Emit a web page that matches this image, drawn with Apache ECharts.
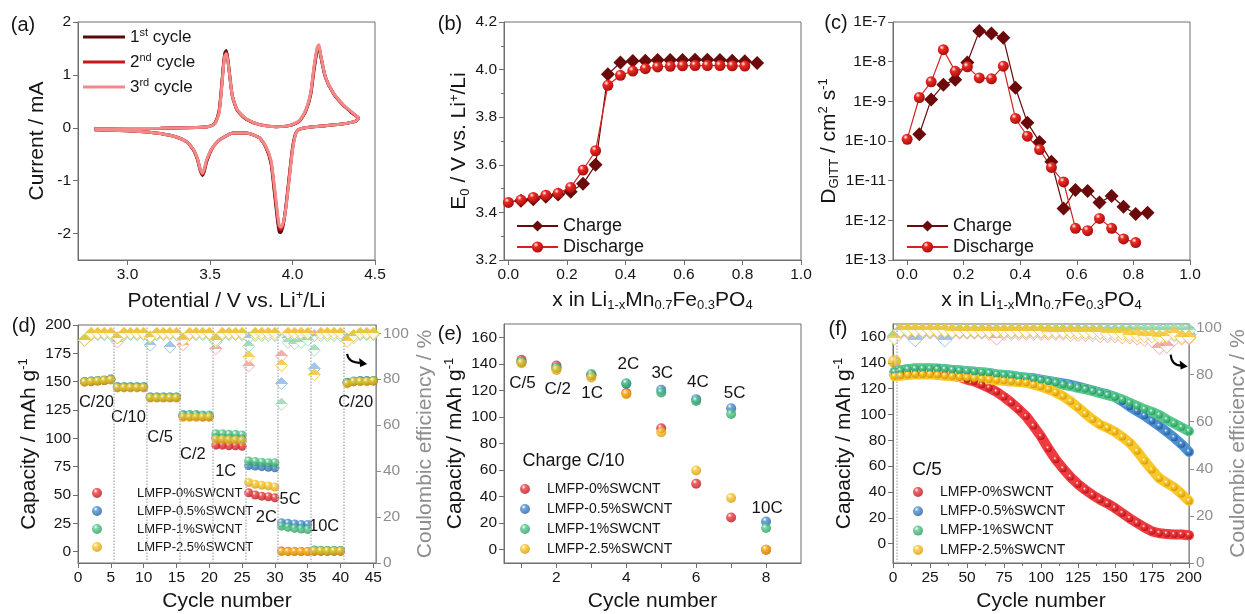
<!DOCTYPE html>
<html lang="en">
  <head>
    <meta charset="UTF-8" />
    <title>LMFP / SWCNT electrochemistry</title>
    <style>
      html, body { margin: 0; padding: 0; background: #ffffff; }
      #main { width: 1245px; height: 614px; }
    </style>
  </head>
  <body>
    <div id="main"></div>
    <script src="https://cdn.jsdelivr.net/npm/echarts@6/dist/echarts.min.js"></script>
    <script>
      // ===== (a) cyclic voltammetry: anodic sweep then cathodic sweep =====
      const cvNames = ['1st cycle', '2nd cycle', '3rd cycle']
      const cvPotential = [
        2.80, 3.00, 3.20, 3.35, 3.45, 3.50, 3.53, 3.555, 3.57, 3.58, 3.59, 3.60, 3.615, 3.635, 3.665, 3.72,
        3.80, 3.90, 3.98, 4.04, 4.08, 4.11, 4.13, 4.15, 4.16, 4.17, 4.20, 4.25, 4.31, 4.37, 4.40,
        4.38, 4.30, 4.20, 4.10, 4.04, 4.02, 4.00, 3.98, 3.96, 3.945, 3.93, 3.92, 3.91, 3.89, 3.87, 3.84,
        3.80, 3.72, 3.64, 3.60, 3.55, 3.51, 3.48, 3.465, 3.455, 3.44, 3.425, 3.40, 3.36, 3.30, 3.20, 3.10,
        3.00, 2.80
      ]
      const cvCycle1 = [
        -0.02, -0.015, -0.01, 0.0, 0.01, 0.03, 0.09, 0.32, 0.78, 1.15, 1.42, 1.46, 1.12, 0.61, 0.33, 0.16,
        0.06, 0.02, 0.04, 0.12, 0.31, 0.62, 1.08, 1.47, 1.53, 1.37, 0.95, 0.64, 0.42, 0.26, 0.18,
        0.12, 0.07, 0.04, 0.01, -0.03, -0.10, -0.38, -0.92, -1.48, -1.82, -1.98, -1.97, -1.78, -1.22, -0.68, -0.38,
        -0.19, -0.10, -0.10, -0.15, -0.25, -0.41, -0.64, -0.83, -0.90, -0.80, -0.61, -0.42, -0.27, -0.18, -0.11, -0.075,
        -0.055, -0.035
      ]
      const cvCycle2 = [
        -0.02, -0.015, -0.01, 0.0, 0.01, 0.03, 0.08, 0.30, 0.75, 1.12, 1.38, 1.42, 1.10, 0.60, 0.33, 0.16,
        0.06, 0.02, 0.04, 0.12, 0.32, 0.64, 1.12, 1.50, 1.55, 1.38, 0.95, 0.64, 0.42, 0.26, 0.18,
        0.12, 0.07, 0.04, 0.01, -0.03, -0.10, -0.40, -0.95, -1.50, -1.80, -1.93, -1.90, -1.70, -1.15, -0.65, -0.37,
        -0.19, -0.10, -0.10, -0.15, -0.25, -0.40, -0.62, -0.80, -0.88, -0.78, -0.60, -0.42, -0.27, -0.18, -0.11, -0.075,
        -0.055, -0.035
      ]
      const cvCycle3 = [
        -0.02, -0.015, -0.01, 0.0, 0.01, 0.03, 0.08, 0.28, 0.72, 1.10, 1.36, 1.40, 1.10, 0.61, 0.34, 0.17,
        0.06, 0.02, 0.04, 0.13, 0.33, 0.66, 1.15, 1.53, 1.57, 1.40, 0.96, 0.65, 0.43, 0.27, 0.18,
        0.12, 0.07, 0.04, 0.01, -0.03, -0.11, -0.43, -0.98, -1.52, -1.78, -1.88, -1.85, -1.64, -1.10, -0.62, -0.36,
        -0.19, -0.10, -0.10, -0.15, -0.25, -0.40, -0.60, -0.78, -0.86, -0.77, -0.59, -0.41, -0.27, -0.18, -0.11, -0.075,
        -0.055, -0.035
      ]

      // ===== (b)/(c) GITT =====
      const gittXCharge = [0.043, 0.085, 0.128, 0.170, 0.213, 0.255, 0.298, 0.340, 0.383, 0.425,
        0.468, 0.510, 0.553, 0.595, 0.638, 0.680, 0.723, 0.765, 0.808, 0.850]
      const gittXDischarge = [0.000, 0.043, 0.085, 0.128, 0.170, 0.213, 0.255, 0.298, 0.340, 0.383,
        0.425, 0.468, 0.510, 0.553, 0.595, 0.638, 0.680, 0.723, 0.765, 0.808]
      const e0Charge = [3.449, 3.455, 3.466, 3.475, 3.487, 3.520, 3.600, 3.980, 4.030, 4.036,
        4.037, 4.040, 4.040, 4.040, 4.041, 4.041, 4.040, 4.037, 4.035, 4.028]
      const e0Discharge = [3.442, 3.452, 3.463, 3.472, 3.480, 3.505, 3.578, 3.659, 3.934, 3.976,
        3.994, 4.004, 4.011, 4.014, 4.016, 4.017, 4.017, 4.017, 4.016, 4.015]
      const dCharge = [1.48e-10, 1.12e-9, 2.6e-9, 3.5e-9, 9.5e-9, 5.9e-8, 5.1e-8, 4.0e-8, 2.2e-9, 2.9e-10,
        9.5e-11, 3.0e-11, 2.0e-12, 5.8e-12, 5.5e-12, 2.8e-12, 4.1e-12, 2.2e-12, 1.44e-12, 1.56e-12]
      const dDischarge = [1.1e-10, 1.25e-9, 3.1e-9, 2.0e-8, 5.7e-9, 7.4e-9, 3.9e-9, 3.7e-9, 7.7e-9, 3.7e-10,
        1.32e-10, 6.1e-11, 2.15e-11, 9.3e-12, 6.3e-13, 5.5e-13, 1.12e-12, 6.3e-13, 3.4e-13, 2.75e-13]

      // ===== (d) rate capability =====
      const cntNames = ['LMFP-0%SWCNT', 'LMFP-0.5%SWCNT', 'LMFP-1%SWCNT', 'LMFP-2.5%SWCNT']
      const rateCycles = [1, 2, 3, 4, 5, 6, 7, 8, 9, 10, 11, 12, 13, 14, 15, 16, 17, 18, 19, 20, 21, 22, 23,
        24, 25, 26, 27, 28, 29, 30, 31, 32, 33, 34, 35, 36, 37, 38, 39, 40, 41, 42, 43, 44, 45]
      const rateBreaks = [5.5, 10.5, 15.5, 20.5, 25.5, 30.5, 35.5, 40.5]
      const rateLabelsD = ['C/20', 'C/10', 'C/5', 'C/2', '1C', '2C', '5C', '10C', 'C/20']
      const capD0 = [150.0, 150.0, 150.5, 151.0, 152.0, 145.0, 145.0, 145.0, 145.0, 145.0,
        136.0, 136.0, 136.0, 136.0, 136.0, 119.5, 119.5, 119.5, 119.0, 119.0,
        94.0, 94.0, 93.5, 93.5, 93.0, 52.0, 50.0, 49.0, 48.5, 47.5,
        0.5, 0.3, 0.2, 0.2, 0.2, 0.2, 0.2, 0.2, 0.2, 0.2,
        149.0, 150.0, 150.5, 150.5, 150.5]
      const capD05 = [150.0, 150.5, 151.0, 151.5, 152.5, 145.5, 145.5, 145.5, 145.5, 145.5,
        136.5, 136.5, 136.5, 136.5, 136.5, 120.5, 120.5, 120.5, 120.0, 120.0,
        100.5, 100.0, 100.0, 99.5, 99.5, 76.0, 75.5, 75.0, 74.5, 74.0,
        25.5, 25.0, 24.5, 24.0, 24.0, 1.2, 1.0, 1.0, 1.0, 1.0,
        149.5, 150.5, 151.0, 151.0, 151.0]
      const capD1 = [150.0, 150.5, 151.0, 151.0, 152.0, 145.5, 145.5, 145.5, 145.5, 145.5,
        136.5, 136.5, 136.5, 136.5, 136.5, 121.0, 121.0, 121.0, 120.5, 120.5,
        104.0, 104.0, 103.5, 103.5, 103.0, 80.0, 79.5, 79.0, 78.5, 78.5,
        22.5, 21.5, 20.5, 20.0, 19.5, 1.5, 1.2, 1.0, 1.0, 1.0,
        149.0, 150.0, 150.5, 150.5, 151.0]
      const capD25 = [149.5, 150.0, 150.5, 151.0, 151.5, 144.5, 144.5, 144.5, 144.5, 144.5,
        135.5, 135.5, 135.5, 135.5, 135.5, 118.5, 118.5, 118.5, 118.5, 118.5,
        99.0, 99.0, 98.5, 98.5, 98.0, 61.0, 59.5, 58.5, 58.0, 57.0,
        0.0, 0.0, 0.0, 0.0, 0.0, 0.5, 0.5, 0.5, 0.5, 0.5,
        148.0, 150.0, 150.0, 150.0, 150.5]
      const ceD0 = [97.0, 99.5, 99.5, 99.5, 99.5, 96.2, 99.5, 99.5, 99.5, 99.5,
        98.0, 99.5, 99.5, 99.5, 99.5, 95.0, 99.5, 99.5, 99.5, 99.5,
        93.3, 99.5, 99.5, 99.5, 99.5, 85.8, 99.2, 99.2, 99.2, 99.2,
        90.1, 99.5, 99.5, 99.5, 99.5, 99.0, 99.5, 99.5, 99.5, 99.5,
        97.0, 98.5, 99.5, 99.5, 99.5]
      const ceD05 = [97.0, 99.5, 99.5, 99.5, 99.5, 98.0, 99.5, 99.5, 99.5, 99.5,
        94.8, 99.5, 99.5, 94.0, 99.5, 97.5, 99.5, 99.5, 99.5, 99.5,
        97.0, 99.5, 99.5, 99.5, 99.5, 98.0, 99.5, 99.5, 99.5, 99.5,
        78.1, 98.0, 99.0, 99.0, 99.0, 84.6, 99.5, 99.5, 99.5, 99.5,
        97.5, 99.0, 99.5, 99.5, 99.5]
      const ceD1 = [97.0, 99.5, 99.5, 99.5, 99.5, 98.0, 99.5, 99.5, 99.5, 99.5,
        98.0, 99.5, 99.5, 99.5, 99.5, 97.5, 99.5, 99.5, 99.5, 99.5,
        96.2, 99.5, 99.5, 99.5, 99.5, 94.3, 99.0, 99.0, 99.0, 99.0,
        69.1, 96.0, 95.5, 96.0, 97.0, 92.6, 99.0, 99.0, 99.0, 99.0,
        97.0, 98.0, 99.5, 99.5, 99.5]
      const ceD25 = [97.0, 100.0, 100.0, 100.0, 100.0, 98.0, 100.0, 100.0, 100.0, 100.0,
        98.5, 100.0, 100.0, 100.0, 100.0, 97.0, 100.0, 100.0, 100.0, 100.0,
        97.0, 100.0, 100.0, 100.0, 100.0, 89.7, 100.0, 100.0, 100.0, 100.0,
        86.0, 100.0, 100.0, 100.0, 100.0, 82.0, 100.0, 100.0, 100.0, 100.0,
        96.5, 99.0, 100.0, 100.0, 100.0]

      // ===== (e) discharge rate test, charge at C/10 =====
      const rateSteps = [1, 2, 3, 4, 5, 6, 7, 8]
      const rateLabelsE = ['C/5', 'C/2', '1C', '2C', '3C', '4C', '5C', '10C']
      const capE0 = [143.0, 138.7, 131.5, 118.0, 91.5, 49.7, 24.3, 0.0]
      const capE05 = [141.5, 137.0, 131.5, 125.0, 120.4, 113.4, 106.6, 21.3]
      const capE1 = [141.5, 137.0, 132.4, 125.4, 118.4, 112.1, 102.3, 16.3]
      const capE25 = [140.4, 135.4, 129.7, 117.1, 88.5, 59.7, 38.9, 0.0]

      // ===== (f) long cycling at C/5 =====
      const cycleF = [1, 5, 10, 15, 20, 25, 30, 35, 40, 45, 50, 55, 60, 65, 70, 75, 80, 85, 90, 95, 100,
        105, 110, 115, 120, 125, 130, 135, 140, 145, 150, 155, 160, 165, 170, 175, 180, 185, 190, 195, 200]
      const capF0 = [130.5, 131.0, 131.0, 131.5, 131.5, 131.5, 131.0, 130.5, 130.0, 129.0,
        127.0, 125.5, 123.0, 120.5, 117.5, 113.5, 109.0, 104.0, 98.5, 91.0,
        83.0, 73.5, 65.0, 58.0, 51.5, 46.0, 41.5, 37.5, 34.0, 31.0,
        27.5, 23.5, 19.5, 16.0, 12.5, 9.5, 8.0, 7.5, 7.0, 7.0, 6.5]
      const capF05 = [133.0, 134.0, 135.0, 135.5, 135.5, 135.5, 135.5, 135.0, 134.5, 134.0,
        133.5, 133.0, 132.5, 132.0, 131.0, 130.5, 130.0, 129.0, 128.5, 128.0,
        127.0, 126.0, 125.0, 124.0, 123.0, 121.5, 120.0, 118.5, 117.0, 115.5,
        113.5, 110.0, 106.0, 102.5, 99.0, 95.0, 91.0, 86.5, 82.0, 77.0, 71.0]
      const capF1 = [133.0, 134.0, 135.0, 135.5, 135.5, 135.5, 135.0, 135.0, 134.5, 134.0,
        133.5, 133.0, 132.5, 132.0, 131.0, 130.5, 130.0, 129.0, 128.5, 127.5,
        126.5, 125.5, 124.5, 123.0, 122.0, 120.5, 119.5, 118.0, 116.5, 115.0,
        113.5, 111.5, 109.0, 106.5, 104.0, 102.0, 99.5, 96.0, 93.0, 90.0, 87.0]
      const capF25 = [129.5, 130.0, 130.5, 131.0, 131.0, 131.0, 130.5, 130.0, 129.5, 129.0,
        128.5, 128.0, 127.5, 127.0, 126.5, 126.0, 125.5, 125.0, 124.5, 123.0,
        121.5, 119.5, 117.0, 114.0, 110.0, 105.5, 100.5, 96.0, 92.0, 89.5,
        86.5, 82.5, 78.0, 71.5, 64.0, 57.0, 50.5, 47.0, 43.5, 38.5, 33.0]
      const formationCycleF = [1]
      const formationCapF25 = [141.0]
      const ceF0 = [96.0, 98.0, 98.0, 98.0, 98.0, 98.0, 98.0, 98.0, 98.0, 98.0,
        98.0, 98.0, 98.0, 97.5, 95.5, 97.5, 97.5, 97.5, 97.5, 97.5,
        97.5, 97.5, 97.5, 97.5, 97.0, 97.0, 97.0, 97.0, 96.5, 96.5,
        96.5, 96.0, 96.0, 95.5, 95.0, 94.5, 91.5, 92.0, 95.0, 95.5, 95.5]
      const ceF05 = [96.0, 98.3, 98.3, 94.8, 98.3, 98.3, 98.3, 94.8, 98.3, 98.3,
        98.3, 98.3, 98.3, 98.3, 98.3, 98.3, 98.3, 98.3, 98.3, 98.3,
        98.3, 98.3, 98.3, 98.3, 98.3, 98.3, 98.0, 98.0, 98.0, 98.0,
        98.0, 97.8, 97.8, 97.5, 97.5, 97.5, 97.3, 97.3, 97.0, 97.0, 97.0]
      const ceF1 = [96.5, 98.6, 98.6, 98.6, 98.6, 98.6, 98.6, 98.6, 98.6, 98.6,
        98.6, 98.6, 98.6, 98.6, 98.6, 98.6, 98.6, 98.6, 98.6, 98.6,
        98.6, 98.6, 98.6, 98.6, 98.6, 98.6, 98.6, 98.6, 98.6, 98.6,
        98.6, 98.6, 98.6, 98.8, 98.8, 98.8, 98.8, 98.8, 99.0, 98.8, 98.8]
      const ceF25 = [95.5, 98.8, 98.8, 98.8, 98.8, 98.8, 98.8, 98.8, 98.5, 98.5,
        98.5, 98.5, 98.5, 98.5, 98.5, 98.5, 98.5, 98.5, 98.5, 98.5,
        98.5, 98.3, 98.3, 98.3, 98.3, 98.0, 98.0, 98.0, 98.0, 97.5,
        97.5, 97.5, 97.0, 97.0, 96.5, 96.5, 96.0, 96.5, 97.5, 96.0, 96.0]

      // ===== styles =====
      const FONT = "'Liberation Sans', Arial, sans-serif"
      const INK = '#151515'
      const FRAME = '#6f6f6f'
      const GREY = '#8e8e8e'
      const cvColors = ['#5b0a0c', '#c9171d', '#f28a8a']
      const chargeColor = '#6a0a0a'
      const dischargeStyle = { base: '#ea2a22', dark: '#a80d0d' }
      const cntStyle = [
        { base: '#ee3b3f', dark: '#b3141a', ce: '#f09a9a' },
        { base: '#4d8fd1', dark: '#275e9c', ce: '#8ab8e6' },
        { base: '#56c98b', dark: '#2d9960', ce: '#8fd9ad' },
        { base: '#f8c82a', dark: '#d8980a', ce: '#f6c631' }
      ]

      function sphere(s) {
        return new echarts.graphic.RadialGradient(0.36, 0.3, 0.72, [
          { offset: 0, color: '#ffffff' },
          { offset: 0.3, color: s.base },
          { offset: 1, color: s.dark }
        ])
      }
      // Origin-like "half up" diamond: top half filled, bottom half white
      function halfDiamond(c) {
        return new echarts.graphic.LinearGradient(0, 0, 0, 1, [
          { offset: 0, color: c },
          { offset: 0.5, color: c },
          { offset: 0.5, color: '#ffffff' },
          { offset: 1, color: '#ffffff' }
        ])
      }

      const richScript = {
        sup: { fontSize: 13, lineHeight: 13, verticalAlign: 'top', fontFamily: FONT, color: INK },
        sub: { fontSize: 13, lineHeight: 13, verticalAlign: 'bottom', fontFamily: FONT, color: INK }
      }

      function makeAxis(gridIndex, min, max, cfg) {
        const lineColor = cfg.lineColor || FRAME
        const axis = {
          type: cfg.type || 'value',
          gridIndex: gridIndex,
          min: min,
          max: max,
          position: cfg.position,
          name: cfg.name,
          nameLocation: 'middle',
          nameGap: cfg.nameGap,
          nameTextStyle: {
            fontFamily: FONT, fontSize: 21, color: cfg.nameColor || INK, lineHeight: 24, rich: richScript
          },
          axisLine: { show: true, onZero: false, lineStyle: { color: lineColor, width: 1 } },
          axisTick: { show: true, inside: false, length: 5, lineStyle: { color: lineColor } },
          minorTick: { show: !!cfg.minor, splitNumber: cfg.minor || 5, length: 3, lineStyle: { color: lineColor } },
          axisLabel: { fontFamily: FONT, fontSize: 15.5, color: cfg.labelColor || INK, margin: 7, formatter: cfg.fmt },
          splitLine: { show: false },
          minorSplitLine: { show: false }
        }
        if (cfg.interval !== undefined) axis.interval = cfg.interval
        if (cfg.labels) {
          axis.axisLabel.customValues = cfg.labels
          axis.axisTick.customValues = cfg.ticks || cfg.labels
        }
        if (axis.type === 'log') axis.logBase = 10
        return axis
      }

      const fmt1 = v => Number(v).toFixed(1)
      const xTitle = 'x in Li{sub|1-x}Mn{sub|0.7}Fe{sub|0.3}PO{sub|4}'

      const grids = [
        { left: 78, top: 22, width: 297, height: 238 },
        { left: 504, top: 22, width: 297, height: 238 },
        { left: 893, top: 22, width: 297, height: 238 },
        { left: 78, top: 325, width: 298, height: 238 },
        { left: 504, top: 324, width: 297, height: 239 },
        { left: 893, top: 324, width: 296, height: 239 }
      ].map(g => Object.assign({
        show: true, borderColor: FRAME, borderWidth: 1, backgroundColor: 'transparent',
        containLabel: false, outerBoundsMode: 'none'
      }, g))

      const xAxes = [
        makeAxis(0, 2.7, 4.5, { labels: [3.0, 3.5, 4.0, 4.5], fmt: fmt1, name: 'Potential / V vs. Li{sup|+}/Li', nameGap: 29 }),
        makeAxis(1, -0.015, 1.0, { labels: [0, 0.2, 0.4, 0.6, 0.8, 1.0], fmt: fmt1, name: xTitle, nameGap: 28 }),
        makeAxis(2, -0.05, 1.0, { labels: [0, 0.2, 0.4, 0.6, 0.8, 1.0], fmt: fmt1, name: xTitle, nameGap: 28 }),
        makeAxis(3, 0, 45.4, { labels: [0, 5, 10, 15, 20, 25, 30, 35, 40, 45], name: 'Cycle number', nameGap: 26 }),
        makeAxis(4, 0.5, 9, { labels: [2, 4, 6, 8], ticks: [1, 2, 3, 4, 5, 6, 7, 8], name: 'Cycle number', nameGap: 26 }),
        makeAxis(5, 0, 200, { interval: 25, minor: 2, name: 'Cycle number', nameGap: 26 })
      ]
      const yAxes = [
        makeAxis(0, -2.5, 2, { labels: [-2, -1, 0, 1, 2], name: 'Current / mA', nameGap: 29 }),
        makeAxis(1, 3.2, 4.2, { interval: 0.2, minor: 2, fmt: fmt1, name: 'E{sub|0} / V vs. Li{sup|+}/Li', nameGap: 26 }),
        makeAxis(2, 1e-13, 1e-7, {
          type: 'log', fmt: v => '1E' + Math.round(Math.log10(v)),
          name: 'D{sub|GITT} / cm{sup|2} s{sup|-1}', nameGap: 52
        }),
        makeAxis(3, -10, 200, { labels: [0, 25, 50, 75, 100, 125, 150, 175, 200], name: 'Capacity / mAh g{sup|-1}', nameGap: 26 }),
        makeAxis(3, 0, 103.6, {
          position: 'right', labels: [0, 20, 40, 60, 80, 100], lineColor: GREY, labelColor: GREY,
          nameColor: GREY, name: 'Coulombic efficiency / %', nameGap: 35
        }),
        makeAxis(4, -10, 170, { labels: [0, 20, 40, 60, 80, 100, 120, 140, 160], name: 'Capacity / mAh g{sup|-1}', nameGap: 35 }),
        makeAxis(5, -15, 170, { labels: [0, 20, 40, 60, 80, 100, 120, 140, 160], name: 'Capacity / mAh g{sup|-1}', nameGap: 36 }),
        makeAxis(5, 0, 101.5, {
          position: 'right', labels: [0, 20, 40, 60, 80, 100], lineColor: GREY, labelColor: GREY,
          nameColor: GREY, name: 'Coulombic efficiency / %', nameGap: 32
        })
      ]

      const series = []
      const zip = (xs, ys) => xs.map((x, i) => [x, ys[i]])

      // (a)
      ;[cvCycle1, cvCycle2, cvCycle3].forEach((cur, i) => {
        series.push({
          name: cvNames[i], type: 'line', xAxisIndex: 0, yAxisIndex: 0,
          data: zip(cvPotential, cur), symbol: 'none', smooth: 0.2,
          lineStyle: { width: 3, color: cvColors[i] }, itemStyle: { color: cvColors[i] }
        })
      })

      // (b) and (c)
      function gittPair(axisIndex, charge, discharge) {
        series.push({
          name: 'Charge', type: 'line', xAxisIndex: axisIndex, yAxisIndex: axisIndex,
          data: zip(gittXCharge, charge), symbol: 'diamond', symbolSize: 14,
          lineStyle: { width: 1.2, color: chargeColor }, itemStyle: { color: chargeColor }
        })
        series.push({
          name: 'Discharge', type: 'line', xAxisIndex: axisIndex, yAxisIndex: axisIndex,
          data: zip(gittXDischarge, discharge), symbol: 'circle', symbolSize: 11,
          lineStyle: { width: 1.2, color: '#d62020' }, itemStyle: { color: sphere(dischargeStyle) }
        })
      }
      gittPair(1, e0Charge, e0Discharge)
      gittPair(2, dCharge, dDischarge)

      // (d)
      const ceD = [ceD0, ceD05, ceD1, ceD25]
      const capD = [capD0, capD05, capD1, capD25]
      cntStyle.forEach((s, i) => {
        series.push({
          name: 'CE ' + cntNames[i], type: 'scatter', xAxisIndex: 3, yAxisIndex: 4,
          data: zip(rateCycles, ceD[i]), symbol: 'diamond', symbolSize: 12,
          itemStyle: { color: halfDiamond(s.ce), borderColor: s.ce, borderWidth: 1 }
        })
      })
      cntStyle.forEach((s, i) => {
        const ser = {
          name: cntNames[i], type: 'scatter', xAxisIndex: 3, yAxisIndex: 3,
          data: zip(rateCycles, capD[i]), symbol: 'circle', symbolSize: 9,
          itemStyle: { color: sphere(s) }
        }
        if (i === 0) {
          ser.markLine = {
            silent: true, symbol: ['none', 'none'], label: { show: false },
            lineStyle: { type: 'dotted', color: '#b8b8b8', width: 1.5 },
            data: rateBreaks.map(x => ({ xAxis: x }))
          }
        }
        series.push(ser)
      })

      // (e)
      ;[capE0, capE05, capE1, capE25].forEach((cap, i) => {
        series.push({
          name: cntNames[i], type: 'scatter', xAxisIndex: 4, yAxisIndex: 5,
          data: zip(rateSteps, cap), symbol: 'circle', symbolSize: 10,
          itemStyle: { color: sphere(cntStyle[i]) }
        })
      })

      // (f)
      const capF = [capF0, capF05, capF1, capF25]
      const ceF = [ceF0, ceF05, ceF1, ceF25]
      cntStyle.forEach((s, i) => {
        series.push({
          name: 'CE ' + cntNames[i], type: 'scatter', xAxisIndex: 5, yAxisIndex: 7,
          data: zip(cycleF, ceF[i]), symbol: 'diamond', symbolSize: 14,
          itemStyle: { color: halfDiamond(s.ce), borderColor: s.ce, borderWidth: 1 }
        })
      })
      cntStyle.forEach((s, i) => {
        const ser = {
          name: cntNames[i], type: 'line', xAxisIndex: 5, yAxisIndex: 6,
          data: zip(cycleF, capF[i]), symbol: 'circle', symbolSize: 7, showSymbol: true,
          lineStyle: { width: 10, color: s.base, cap: 'round' }, itemStyle: { color: sphere(s) }
        }
        if (i === 0) {
          ser.markLine = {
            silent: true, symbol: ['none', 'none'], label: { show: false },
            lineStyle: { type: 'dotted', color: '#b8b8b8', width: 1.5 },
            data: [{ xAxis: 2.5 }]
          }
        }
        series.push(ser)
      })
      series.push({
        name: 'formation', type: 'scatter', xAxisIndex: 5, yAxisIndex: 6,
        data: zip(formationCycleF, formationCapF25), symbol: 'circle', symbolSize: 13,
        itemStyle: { color: sphere(cntStyle[3]) }
      })

      function legend(cfg) {
        const l = Object.assign({ orient: 'vertical', padding: 0, selectedMode: false }, cfg)
        l.textStyle = Object.assign({ fontFamily: FONT, color: INK }, cfg.textStyle)
        return l
      }
      const cntLegendText = { fontSize: 14, lineHeight: 18 }
      const legends = [
        legend({
          left: 83, top: 27, data: cvNames, icon: 'rect', itemWidth: 42, itemHeight: 3, itemGap: 5,
          textStyle: { fontSize: 17, lineHeight: 20, rich: { sup: { fontSize: 11, lineHeight: 11, verticalAlign: 'top', color: INK, fontFamily: FONT } } },
          formatter: n => n.replace(/^(\d)(st|nd|rd)/, '$1{sup|$2}')
        }),
        legend({ left: 516, top: 216, data: ['Charge', 'Discharge'], itemWidth: 41, itemHeight: 14, itemGap: 1, textStyle: { fontSize: 18, lineHeight: 20 } }),
        legend({ left: 906, top: 216, data: ['Charge', 'Discharge'], itemWidth: 41, itemHeight: 14, itemGap: 1, textStyle: { fontSize: 18, lineHeight: 20 } }),
        legend({ left: 92, top: 484, data: cntNames, itemWidth: 70, itemHeight: 10, itemGap: 0, textStyle: { fontSize: 13, lineHeight: 18 } }),
        legend({ left: 520, top: 480, data: cntNames, itemWidth: 34, itemHeight: 10, itemGap: 2, textStyle: cntLegendText }),
        legend({ left: 913, top: 483, data: cntNames, itemWidth: 34, itemHeight: 10, itemGap: 1.3, textStyle: cntLegendText })
      ]

      const chart = echarts.init(document.getElementById('main'), null, { renderer: 'canvas' })
      chart.setOption({
        backgroundColor: '#ffffff',
        animation: false,
        grid: grids,
        xAxis: xAxes,
        yAxis: yAxes,
        legend: legends,
        series: series
      })

      // ===== annotations =====
      const toPx = (xi, yi, p) => chart.convertToPixel({ xAxisIndex: xi, yAxisIndex: yi }, p)
      const graphics = []
      function addText(pt, text, size, align) {
        graphics.push({
          type: 'text', x: pt[0], y: pt[1], silent: true,
          style: {
            text: text, fontFamily: FONT, fontSize: size, fill: INK,
            align: align || 'center', verticalAlign: 'middle'
          }
        })
      }
      ;[['(a)', 23, 25], ['(b)', 450, 24], ['(c)', 836, 23], ['(d)', 24, 326], ['(e)', 450, 334], ['(f)', 838, 329]]
        .forEach(p => addText([p[1], p[2]], p[0], 20))

      const dLabelAt = [[2.8, 131.5], [7.7, 118], [12.5, 101], [17.5, 85.5], [22.5, 70.5], [28.7, 30], [32.3, 46], [37.5, 22], [42.3, 131.5]]
      rateLabelsD.forEach((t, i) => addText(toPx(3, 3, dLabelAt[i]), t, 16.5))
      const eLabelAt = [[1.03, 125], [2.04, 121], [3.02, 117.5], [4.06, 140], [5.03, 132.5], [6.05, 126.3], [7.1, 117.5], [8.03, 31.4]]
      rateLabelsE.forEach((t, i) => addText(toPx(4, 5, eLabelAt[i]), t, 17))
      addText(toPx(4, 5, [1.03, 66.5]), 'Charge C/10', 18, 'left')
      addText(toPx(5, 6, [23, 57]), 'C/5', 19)

      function addArrow(start, dx, dy) {
        const [sx, sy] = start
        const ex = sx + dx - 6
        const ey = sy + dy - 1
        graphics.push({
          type: 'bezierCurve', silent: true,
          shape: { x1: sx, y1: sy, x2: ex, y2: ey, cpx1: sx + 1, cpy1: ey },
          style: { stroke: '#000000', lineWidth: 2, fill: 'none' }
        })
        graphics.push({
          type: 'polygon', silent: true,
          shape: { points: [[sx + dx, sy + dy], [ex - 2, ey - 5], [ex - 1, ey + 4]] },
          style: { fill: '#000000' }
        })
      }
      addArrow(toPx(3, 3, [41, 174.5]), 20, 10)
      addArrow(toPx(5, 6, [187.6, 146.3]), 17, 12)

      chart.setOption({ graphic: graphics })
    </script>
  </body>
</html>
